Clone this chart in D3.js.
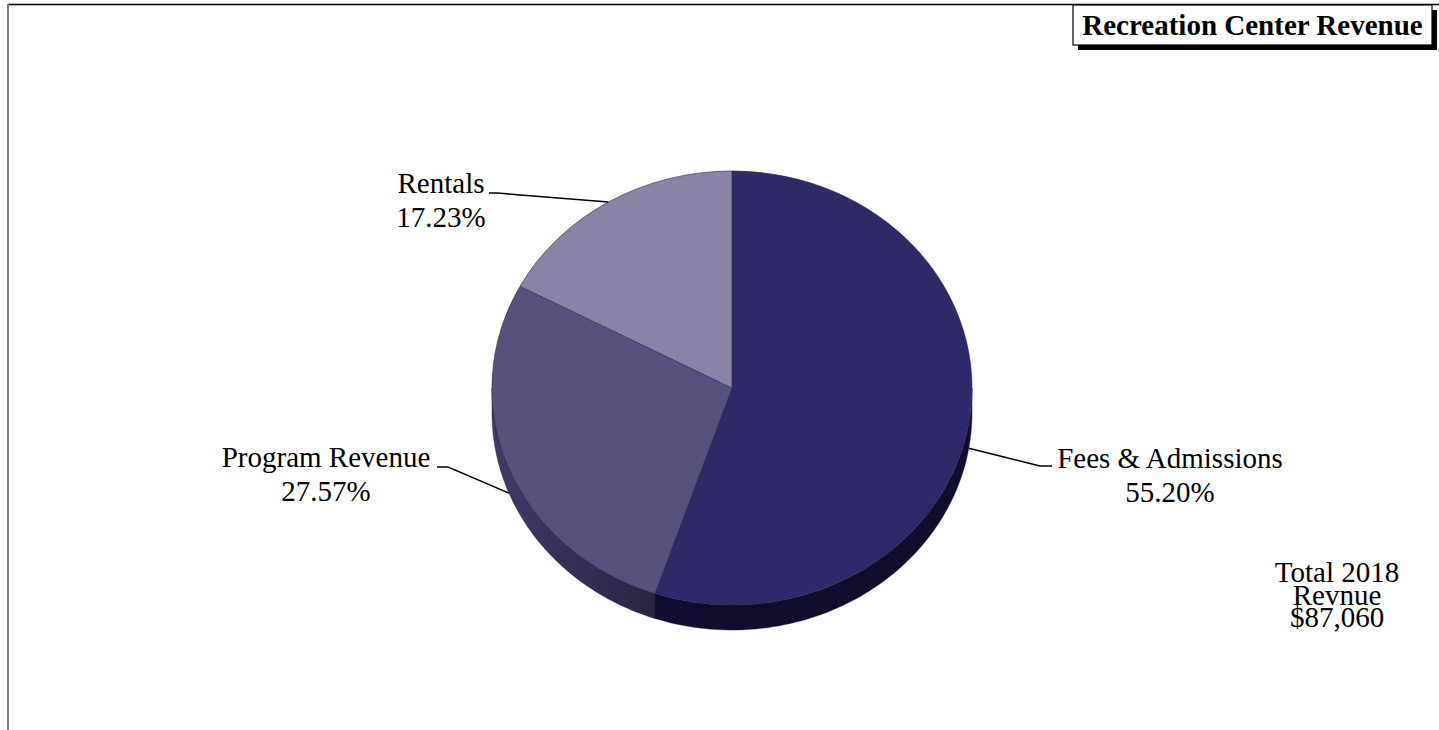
<!DOCTYPE html>
<html>
<head>
<meta charset="utf-8">
<script src="https://cdn.jsdelivr.net/npm/d3@7"></script>
<style>
  html, body { margin: 0; padding: 0; background: #fff; }
  svg { display: block; }
  text { font-family: "Liberation Serif", "Times New Roman", serif; fill: #000; }
</style>
</head>
<body>
<svg id="chart" width="1439" height="730"></svg>
<script>
// Revenue shares by source
const categories = ["Fees & Admissions", "Program Revenue", "Rentals"];
const shares = [55.20, 27.57, 17.23];
const percentLabels = ["55.20%", "27.57%", "17.23%"];
const titleText = "Recreation Center Revenue";
const totalLines = ["Total 2018", "Revnue", "$87,060"];

const W = 1439, H = 730;
const svg = d3.select("#chart");

// Tilted pie geometry
const cx = 732, cy = 388, rx = 240, ry = 217, depth = 25;

const topColor = d3.scaleOrdinal().domain(categories).range(["#2e2a67", "#57517f", "#8b83a5"]);
const sideDark = d3.scaleOrdinal().domain(categories).range(["#100d2d", "#221e37", "#4a4463"]);
const sideLight = d3.scaleOrdinal().domain(categories).range(["#14113a", "#403a68", "#5d5680"]);

const pie = d3.pie().sort(null).value(d => d.v).startAngle(0).endAngle(2 * Math.PI);
const arcs = pie(categories.map((c, i) => ({ c, v: shares[i], label: percentLabels[i] })));

// point on the ellipse for a pie angle (0 at top, clockwise)
const ex = a => cx + rx * Math.sin(a);
const ey = a => cy - ry * Math.cos(a);

// frame
svg.append("line").attr("x1", 8).attr("x2", W).attr("y1", 4.5).attr("y2", 4.5)
  .attr("stroke", "#000").attr("stroke-width", 1.5);
svg.append("line").attr("x1", 8).attr("x2", 8).attr("y1", 4).attr("y2", H)
  .attr("stroke", "#7a7a7a").attr("stroke-width", 2);

const defs = svg.append("defs");
arcs.forEach((d, i) => {
  const g = defs.append("linearGradient").attr("id", "side" + i)
    .attr("gradientUnits", "userSpaceOnUse")
    .attr("x1", cx - rx).attr("x2", cx + rx).attr("y1", 0).attr("y2", 0);
  g.append("stop").attr("offset", "0%").attr("stop-color", sideLight(d.data.c));
  g.append("stop").attr("offset", "45%").attr("stop-color", sideDark(d.data.c));
  g.append("stop").attr("offset", "100%").attr("stop-color", sideDark(d.data.c));
});

// side walls: only the front half (angles between pi/2 and 3pi/2) is visible
const lo = Math.PI / 2, hi = 3 * Math.PI / 2;
const sideG = svg.append("g");
arcs.forEach((d, i) => {
  const a0 = Math.max(d.startAngle, lo), a1 = Math.min(d.endAngle, hi);
  if (a1 <= a0) return;
  const n = 80;
  const angles = d3.range(n + 1).map(k => a0 + (a1 - a0) * k / n);
  const pts = angles.map(a => [ex(a), ey(a)])
    .concat(angles.slice().reverse().map(a => [ex(a), ey(a) + depth]));
  sideG.append("path")
    .attr("d", d3.line()(pts) + "Z")
    .attr("fill", `url(#side${i})`)
    .attr("stroke", "#1a1730").attr("stroke-width", 0.4);
});

// top face: circular arcs squashed into the ellipse
const arcGen = d3.arc().innerRadius(0).outerRadius(rx);
svg.append("g")
  .attr("transform", `translate(${cx},${cy}) scale(1,${ry / rx})`)
  .selectAll("path").data(arcs).join("path")
  .attr("d", arcGen)
  .attr("fill", d => topColor(d.data.c))
  .attr("stroke", "#2a2640").attr("stroke-width", 0.6)
  .attr("vector-effect", "non-scaling-stroke");

// labels with leader lines
const fs = 29;
const labelSpec = {
  "Fees & Admissions": { x: 1170, y: 468, elbow: [1040, 466], end: [1052, 466] },
  "Program Revenue": { x: 326, y: 467, elbow: [448, 467], end: [437, 467] },
  "Rentals": { x: 441, y: 193, elbow: [497, 193], end: [489, 193] }
};
arcs.forEach(d => {
  const s = labelSpec[d.data.c];
  const mid = (d.startAngle + d.endAngle) / 2;
  const front = Math.cos(mid) < 0;
  const ax = ex(mid), ay = ey(mid) + (front ? depth : 0);
  svg.append("path")
    .attr("d", d3.line()([[ax, ay], s.elbow, s.end]))
    .attr("fill", "none").attr("stroke", "#000").attr("stroke-width", 1.5);
  const t = svg.append("text").attr("text-anchor", "middle").attr("font-size", fs);
  t.append("tspan").attr("x", s.x).attr("y", s.y).text(d.data.c);
  t.append("tspan").attr("x", s.x).attr("y", s.y + 34).text(d.data.label);
});

// total note
const tot = svg.append("text").attr("text-anchor", "middle").attr("font-size", fs);
totalLines.forEach((l, i) => {
  tot.append("tspan").attr("x", 1337).attr("y", 582 + i * 22.5).text(l);
});

// title box with drop shadow
const bx = 1073, by = 5, bw = 359, bh = 40;
svg.append("rect").attr("x", bx + 5).attr("y", by + 5).attr("width", bw).attr("height", bh)
  .attr("fill", "#000");
svg.append("rect").attr("x", bx).attr("y", by).attr("width", bw).attr("height", bh)
  .attr("fill", "#fff").attr("stroke", "#000").attr("stroke-width", 1.2);
svg.append("text").attr("x", bx + bw / 2).attr("y", 35).attr("text-anchor", "middle")
  .attr("font-size", fs).attr("font-weight", "bold").text(titleText);
</script>
</body>
</html>
